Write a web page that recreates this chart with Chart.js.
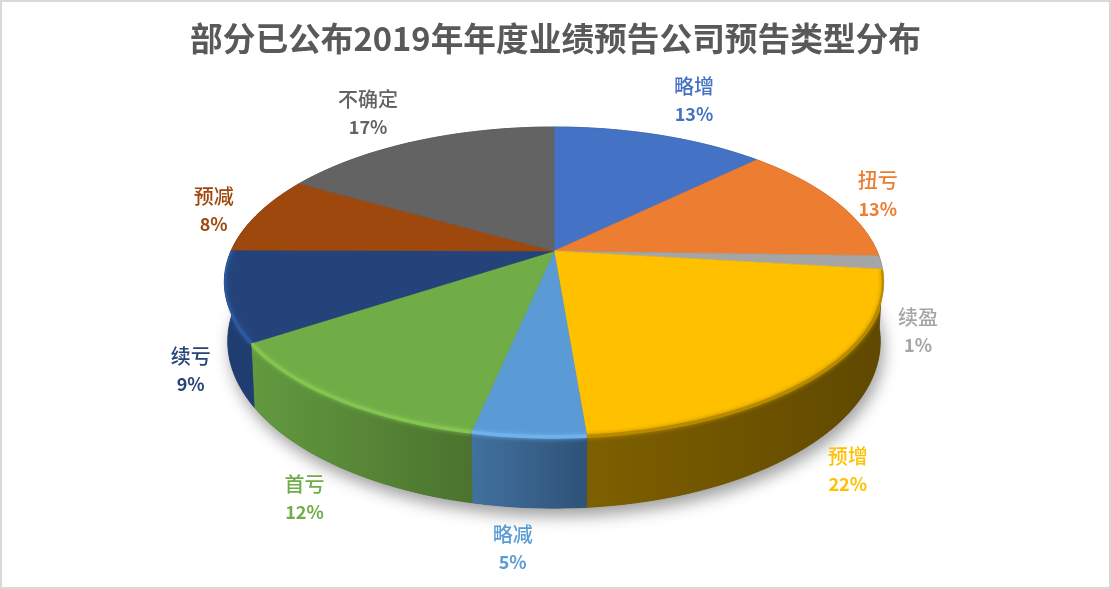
<!DOCTYPE html>
<html>
<head>
<meta charset="utf-8">
<script src="https://cdn.jsdelivr.net/npm/chart.js@4/dist/chart.umd.min.js"></script>
<style>
  html, body { margin: 0; padding: 0; background: #fff; }
  #chart { display: block; outline: 2px solid #d9d9d9; outline-offset: -2px; }
</style>
</head>
<body>
<canvas id="chart" width="1111" height="589"></canvas>
<script>
const categories = ["略增", "扭亏", "续盈", "预增", "略减", "首亏", "续亏", "预减", "不确定"];
const shares = [12.7, 12.8, 1.4, 21.8, 4.6, 12.4, 9.4, 8.2, 16.7];

const topColors = ["#4472c4", "#ed7d31", "#a5a5a5", "#ffc000", "#5b9bd5", "#70ad47", "#23437a", "#9e480e", "#636363"];
const wallLeft = ["#2a4578", "#8f4b1d", "#636363", "#7f6000", "#41719f", "#629a3f", "#1f3d70", "#5f2b08", "#3b3b3b"];
const wallRight = ["#2a4578", "#8f4b1d", "#636363", "#5f4800", "#2e5278", "#4b732e", "#1f3d70", "#5f2b08", "#3b3b3b"];
const rimColors = [null, null, null, "#b88a00", "#6fb3ee", "#84c552", "#2c5aa0", null, null];
const labelColors = ["#4472c4", "#ed7d31", "#a5a5a5", "#ffc000", "#5b9bd5", "#70ad47", "#264478", "#9e480e", "#636363"];
const labelNudgeX = [34, 43, 37, 32, -16, -32, -35, -44, -48];
const labelNudgeY = [-35, -6, 69, 94, 112, 100, 74, -4, -28];

// tilted disc: apex, radii, perspective strength, wall height
const cx = 554, cy = 251, radX = 323, radY = 148.8, persp = 0.2, wallH = 57, wallShrink = 0.99;

function topPoint(a) {
  const w = 1 + persp * Math.cos(a);
  return { x: cx + radX * Math.sin(a) / w, y: cy - radY * Math.cos(a) / w, w };
}
function bottomPoint(a) {
  const p = topPoint(a);
  return { x: cx + (p.x - cx) * wallShrink, y: p.y + wallH / p.w };
}
function angleRange(arc) {
  const list = [];
  const a0 = arc.startAngle + Math.PI / 2, a1 = arc.endAngle + Math.PI / 2;
  const n = Math.max(4, Math.ceil((a1 - a0) * 40));
  for (let i = 0; i <= n; i++) list.push(a0 + (a1 - a0) * i / n);
  return list;
}
function tracePoints(ctx, points) {
  points.forEach((p, k) => (k ? ctx.lineTo(p.x, p.y) : ctx.moveTo(p.x, p.y)));
}

const tiltedPie = {
  id: "tiltedPie",
  beforeDatasetDraw(chart) {
    const ctx = chart.ctx;
    const arcs = chart.getDatasetMeta(0).data;

    // soft shadow under the whole pie
    ctx.save();
    ctx.shadowColor = "rgba(0,0,0,0.38)";
    ctx.shadowBlur = 16;
    ctx.shadowOffsetX = 3;
    ctx.shadowOffsetY = 8;
    ctx.fillStyle = "#444";
    const ring = [];
    for (let i = 0; i <= 180; i++) ring.push(bottomPoint(i / 180 * Math.PI * 2));
    ctx.beginPath();
    tracePoints(ctx, ring);
    ctx.closePath();
    ctx.fill();
    ctx.restore();

    // walls
    arcs.forEach((arc, i) => {
      const angles = angleRange(arc);
      const tops = angles.map(topPoint), bots = angles.map(bottomPoint);
      const xs = tops.concat(bots).map((p) => p.x);
      const g = ctx.createLinearGradient(Math.min(...xs), 0, Math.max(...xs), 0);
      g.addColorStop(0, wallLeft[i]);
      g.addColorStop(1, wallRight[i]);
      ctx.fillStyle = g;
      ctx.strokeStyle = g;
      ctx.lineWidth = 0.6;
      ctx.beginPath();
      tracePoints(ctx, tops.concat(bots.reverse()));
      ctx.closePath();
      ctx.fill();
      ctx.stroke();
    });

    // top faces
    arcs.forEach((arc, i) => {
      ctx.fillStyle = topColors[i];
      ctx.strokeStyle = topColors[i];
      ctx.lineWidth = 0.6;
      ctx.beginPath();
      tracePoints(ctx, [{ x: cx, y: cy }].concat(angleRange(arc).map(topPoint)));
      ctx.closePath();
      ctx.fill();
      ctx.stroke();
    });

    // bevel along the front rim, kept inside the slice and its wall
    arcs.forEach((arc, i) => {
      if (!rimColors[i]) return;
      const angles = angleRange(arc);
      const tops = angles.map(topPoint), bots = angles.map(bottomPoint);
      ctx.save();
      ctx.beginPath();
      tracePoints(ctx, [{ x: cx, y: cy }].concat(tops));
      ctx.closePath();
      tracePoints(ctx, tops.concat(bots.slice().reverse()));
      ctx.closePath();
      ctx.clip("nonzero");
      ctx.strokeStyle = rimColors[i];
      ctx.shadowColor = rimColors[i];
      ctx.shadowBlur = 4;
      ctx.lineWidth = 3.5;
      ctx.beginPath();
      tracePoints(ctx, tops);
      ctx.stroke();
      ctx.restore();
    });

    // labels
    const total = shares.reduce((a, b) => a + b, 0);
    ctx.textAlign = "center";
    ctx.textBaseline = "middle";
    arcs.forEach((arc, i) => {
      const p = topPoint((arc.startAngle + arc.endAngle) / 2 + Math.PI / 2);
      const x = p.x + labelNudgeX[i], y = p.y + labelNudgeY[i];
      ctx.fillStyle = labelColors[i];
      ctx.font = "500 20px 'Noto Sans CJK SC'";
      ctx.fillText(categories[i], x, y - 14);
      ctx.font = "bold 18px 'Noto Sans CJK SC'";
      ctx.fillText(Math.round(shares[i] / total * 100) + "%", x, y + 14);
    });
    return false;
  },
};

new Chart(document.getElementById("chart"), {
  type: "pie",
  data: {
    labels: categories,
    datasets: [{ data: shares, backgroundColor: topColors, borderWidth: 0 }],
  },
  options: {
    responsive: false,
    devicePixelRatio: 1,
    animation: false,
    plugins: {
      legend: { display: false },
      tooltip: { enabled: false },
      title: {
        display: true,
        text: "部分已公布2019年年度业绩预告公司预告类型分布",
        color: "#595959",
        font: { family: "'Noto Sans CJK SC'", size: 32.7, weight: "bold" },
        padding: { top: 19, bottom: 10 },
      },
    },
  },
  plugins: [tiltedPie],
});
</script>
</body>
</html>
